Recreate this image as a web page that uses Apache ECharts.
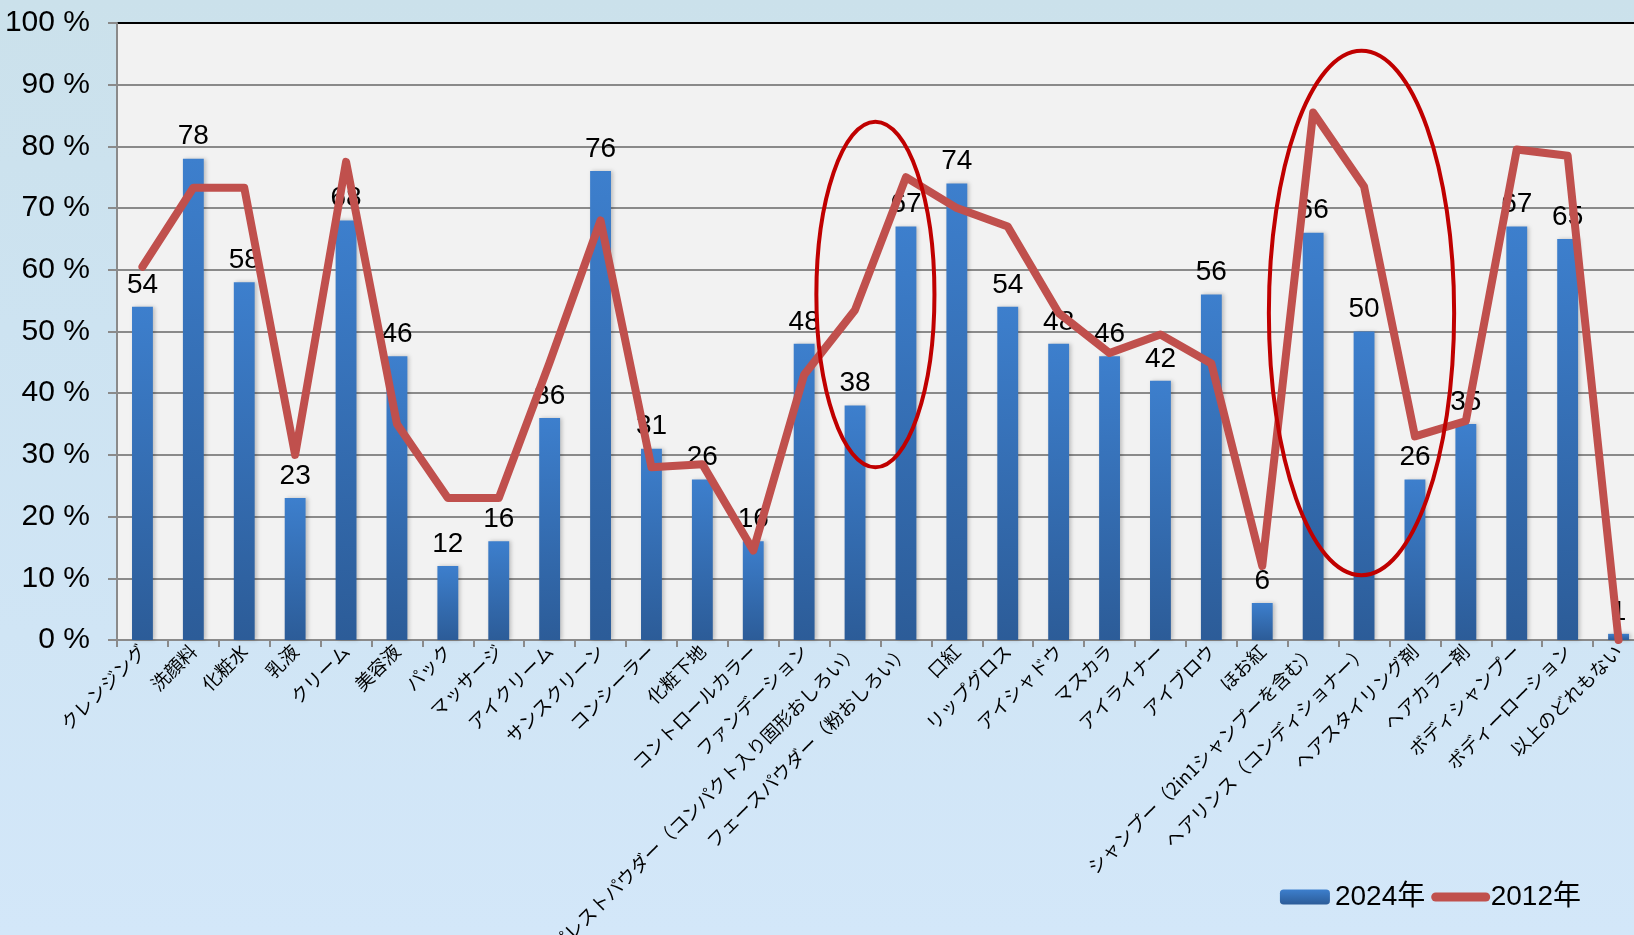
<!DOCTYPE html>
<html>
<head>
<meta charset="utf-8">
<title></title>
<script type="text/javascript" src="https://cdn.jsdelivr.net/npm/echarts@6/dist/echarts.min.js"></script>
<style>
html, body { margin: 0; padding: 0; }
body {
	width: 1634px; height: 935px; overflow: hidden;
	background: linear-gradient(180deg, #cbe1eb 0%, #cde3f1 35%, #d3e7f9 100%);
}
#main { width: 1634px; height: 935px; }
</style>
</head>
<body>

<div id="main"></div>

<script type="text/javascript">

let CATEGORIES = [
	'クレンジング', '洗顔料', '化粧水', '乳液', 'クリーム', '美容液', 'パック', 'マッサージ',
	'アイクリーム', 'サンスクリーン', 'コンシーラー', '化粧下地', 'コントロールカラー', 'ファンデーション',
	'プレストパウダー（コンパクト入り固形おしろい）', 'フェースパウダー（粉おしろい）',
	'口紅', 'リップグロス', 'アイシャドウ', 'マスカラ', 'アイライナー', 'アイブロウ', 'ほお紅',
	'シャンプー（2in1シャンプーを含む）', 'ヘアリンス（コンディショナー）', 'ヘアスタイリング剤',
	'ヘアカラー剤', 'ボディシャンプー', 'ボディーローション', '以上のどれもない'
];

let VALUES_2024 = [54, 78, 58, 23, 68, 46, 12, 16, 36, 76, 31, 26, 16, 48, 38, 67, 74, 54, 48, 46, 42, 56, 6, 66, 50, 26, 35, 67, 65, 1];

let VALUES_2012 = [60.5, 73.3, 73.3, 30, 77.5, 35, 23, 23, 45, 68, 28, 28.5, 14.5, 43, 53.5, 75, 70, 67, 53, 46.5, 49.5, 44.8, 12, 85.5, 73.5, 33, 35.5, 79.5, 78.5, 0];

let SERIES_NAMES = ['2024年', '2012年'];

// annotation ellipses, in category index / percent units
let NOTE_CENTER_X = [14.4, 23.95];
let NOTE_CENTER_Y = [56, 53];
let NOTE_RADIUS_X = [1.16, 1.82];
let NOTE_RADIUS_Y = [28, 42.5];

let NUM_FONT = '"Liberation Sans", Arial, "Noto Sans CJK JP", sans-serif';
let JP_FONT = '"Noto Sans CJK JP", sans-serif';

let splitColors = [];
for (let i = 0; i < 10; i++) splitColors.push('#8a8a8a');
splitColors.push('#000000');

var myChart = echarts.init(document.getElementById('main'));

var option = {
	animation: false,
	backgroundColor: 'transparent',
	grid: {
		left: 117, right: -10, top: 23, bottom: 295,
		show: true, backgroundColor: '#f2f2f2', borderWidth: 0,
		outerBoundsMode: 'none'
	},
	legend: {
		data: [
			{ name: SERIES_NAMES[0] },
			{
				name: SERIES_NAMES[1],
				itemStyle: { opacity: 0 },
				lineStyle: { width: 9, cap: 'round', color: '#c0504d' }
			}
		],
		right: 48, top: 878,
		itemWidth: 50, itemHeight: 15, itemGap: 6,
		textStyle: { fontSize: 28, color: '#000', fontFamily: NUM_FONT }
	},
	xAxis: {
		type: 'category',
		data: CATEGORIES,
		axisLine: { lineStyle: { color: '#8a8a8a', width: 2 } },
		axisTick: { show: true, length: 7, lineStyle: { color: '#8a8a8a', width: 2 } },
		axisLabel: {
			interval: 0, rotate: 45, margin: 8,
			fontSize: 18.5, color: '#000', fontFamily: JP_FONT
		}
	},
	yAxis: {
		type: 'value',
		min: 0, max: 100, interval: 10,
		axisLine: { show: true, lineStyle: { color: '#8a8a8a', width: 2 } },
		axisTick: { show: true, length: 9, lineStyle: { color: '#8a8a8a', width: 2 } },
		axisLabel: {
			formatter: '{value} %', margin: 27,
			fontSize: 30, color: '#000', fontFamily: NUM_FONT
		},
		splitLine: { lineStyle: { color: splitColors, width: 2 } }
	},
	series: [
		{
			name: SERIES_NAMES[0],
			type: 'bar',
			data: VALUES_2024,
			barWidth: '41%',
			itemStyle: {
				color: new echarts.graphic.LinearGradient(0, 0, 0, 1, [
					{ offset: 0, color: '#3d7fcd' },
					{ offset: 1, color: '#2c5c98' }
				]),
				shadowColor: 'rgba(0,0,0,0.22)', shadowBlur: 4, shadowOffsetX: 2
			},
			label: {
				show: true, position: 'top', distance: 8,
				fontSize: 28, color: '#000', fontFamily: NUM_FONT
			},
			z: 2
		},
		{
			name: SERIES_NAMES[1],
			type: 'line',
			data: VALUES_2012,
			symbol: 'none',
			itemStyle: { color: '#c0504d' },
			lineStyle: { color: '#c0504d', width: 8, cap: 'round', join: 'round' },
			z: 5
		}
	]
};

myChart.setOption(option);

function catPixel(x) {
	let i = Math.floor(x);
	let a = myChart.convertToPixel({ gridIndex: 0 }, [i, 0])[0];
	let b = myChart.convertToPixel({ gridIndex: 0 }, [i + 1, 0])[0];
	return a + (b - a) * (x - i);
}

function valPixel(v) {
	return myChart.convertToPixel({ gridIndex: 0 }, [0, v])[1];
}

let notes = NOTE_CENTER_X.map((cx, k) => {
	let px = catPixel(cx);
	let py = valPixel(NOTE_CENTER_Y[k]);
	let rx = catPixel(cx + NOTE_RADIUS_X[k]) - px;
	let ry = py - valPixel(NOTE_CENTER_Y[k] + NOTE_RADIUS_Y[k]);
	return {
		type: 'ellipse',
		shape: { cx: px, cy: py, rx: rx, ry: ry },
		style: { fill: 'none', stroke: '#c00000', lineWidth: 4 },
		z: 100
	};
});

myChart.setOption({ graphic: notes });

</script>

</body>
</html>
